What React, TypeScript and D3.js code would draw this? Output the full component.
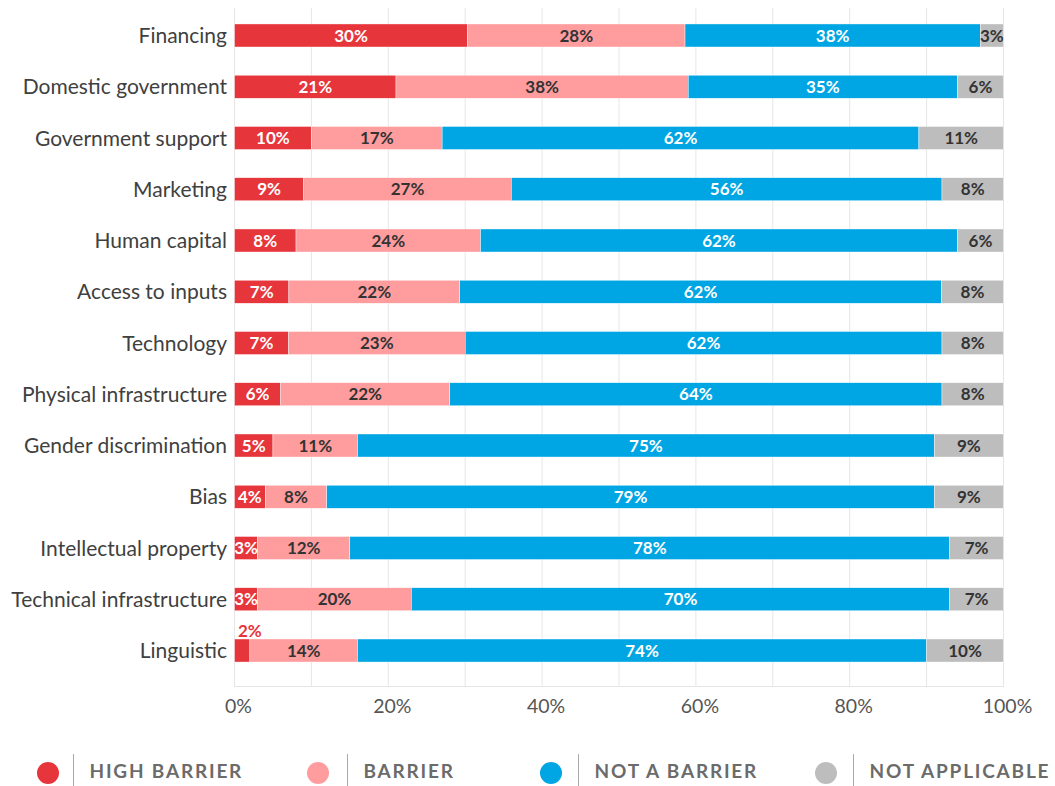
import React from "react";
import * as d3 from "d3";

const categories = [
  "Financing",
  "Domestic government",
  "Government support",
  "Marketing",
  "Human capital",
  "Access to inputs",
  "Technology",
  "Physical infrastructure",
  "Gender discrimination",
  "Bias",
  "Intellectual property",
  "Technical infrastructure",
  "Linguistic",
];
const highBarrier = [30, 21, 10, 9, 8, 7, 7, 6, 5, 4, 3, 3, 2];
const barrier = [28, 38, 17, 27, 24, 22, 23, 22, 11, 8, 12, 20, 14];
const notABarrier = [38, 35, 62, 56, 62, 62, 62, 64, 75, 79, 78, 70, 74];
const notApplicable = [3, 6, 11, 8, 6, 8, 8, 8, 9, 9, 7, 7, 10];
const seriesKeys = ["high", "barrier", "not", "na"];
const seriesNames = ["HIGH BARRIER", "BARRIER", "NOT A BARRIER", "NOT APPLICABLE"];
const xTicks = [0, 0.2, 0.4, 0.6, 0.8, 1];

const COLORS = ["#E6353B", "#FF9C9E", "#00A6E3", "#BDBDBD"];
const LABEL_COLORS = ["#ffffff", "#333333", "#ffffff", "#333333"];
const LEGEND_CIRCLE_X = [48, 318, 551, 826];
const LEGEND_LINE_X = [73, 347, 578, 853];
const FONT = "Lato, 'Open Sans', sans-serif";

export default function App() {
  const W = 1055, H = 786;
  const rows = categories.map((c, i) => ({
    cat: c,
    high: highBarrier[i],
    barrier: barrier[i],
    not: notABarrier[i],
    na: notApplicable[i],
  }));
  const stack = d3.stack<any>().keys(seriesKeys).offset(d3.stackOffsetExpand);
  const series = stack(rows);

  const x = d3.scaleLinear().domain([0, 1]).range([234.5, 1003.5]);
  const y = d3
    .scaleBand<string>()
    .domain(categories)
    .range([8.6, 677.4])
    .paddingInner(0.551)
    .paddingOuter(0.3);
  const bw = y.bandwidth();
  const grid = d3.range(0, 11).map((d) => d / 10);

  return (
    <svg
      width={W}
      height={H}
      style={{ position: "absolute", left: 0, top: 0, background: "#fff" }}
      fontFamily={FONT}
    >
      {grid.map((g) => (
        <line
          key={g}
          x1={x(g)}
          x2={x(g)}
          y1={8}
          y2={687}
          stroke="#e6e6e6"
          strokeWidth={1}
        />
      ))}
      <line x1={x(0)} x2={x(1)} y1={686.5} y2={686.5} stroke="#e6e6e6" strokeWidth={1} />

      {series.map((s, si) =>
        s.map((d: any, i: number) => (
          <rect
            key={si + "-" + i}
            x={x(d[0])}
            y={y(d.data.cat)}
            width={x(d[1]) - x(d[0])}
            height={bw}
            fill={COLORS[si]}
            stroke="#ffffff"
            strokeWidth={0.4}
          />
        ))
      )}

      {series.map((s, si) =>
        s.map((d: any, i: number) => {
          const x0 = x(d[0]);
          const x1 = x(d[1]);
          const v = d.data[seriesKeys[si]];
          const small = x1 - x0 < 20;
          const yc = (y(d.data.cat) as number) + bw / 2;
          return (
            <text
              key={"t" + si + "-" + i}
              x={small ? x0 + 3.5 : (x0 + x1) / 2}
              y={small ? (y(d.data.cat) as number) - 8 : yc}
              dy="0.36em"
              textAnchor={small ? "start" : "middle"}
              fontSize={17}
              fontWeight={700}
              fill={small ? COLORS[si] : LABEL_COLORS[si]}
            >
              {v + "%"}
            </text>
          );
        })
      )}

      {categories.map((c) => (
        <text
          key={c}
          x={227}
          y={(y(c) as number) + bw / 2}
          dy="0.36em"
          textAnchor="end"
          fontSize={21}
          fill="#404040"
        >
          {c}
        </text>
      ))}

      {xTicks.map((t) => (
        <text
          key={t}
          x={x(t) + 4}
          y={713}
          textAnchor="middle"
          fontSize={19.5}
          fill="#555555"
        >
          {d3.format(".0%")(t)}
        </text>
      ))}

      {seriesNames.map((n, i) => (
        <g key={n}>
          <circle cx={LEGEND_CIRCLE_X[i]} cy={773} r={11} fill={COLORS[i]} />
          <line
            x1={LEGEND_LINE_X[i] + 0.5}
            x2={LEGEND_LINE_X[i] + 0.5}
            y1={754}
            y2={787}
            stroke="#a8a8a8"
            strokeWidth={1}
          />
          <text
            x={LEGEND_LINE_X[i] + 16.5}
            y={778}
            fontSize={19}
            fontWeight={700}
            letterSpacing={1.8}
            fill="#6b6b6b"
          >
            {n}
          </text>
        </g>
      ))}
    </svg>
  );
}
